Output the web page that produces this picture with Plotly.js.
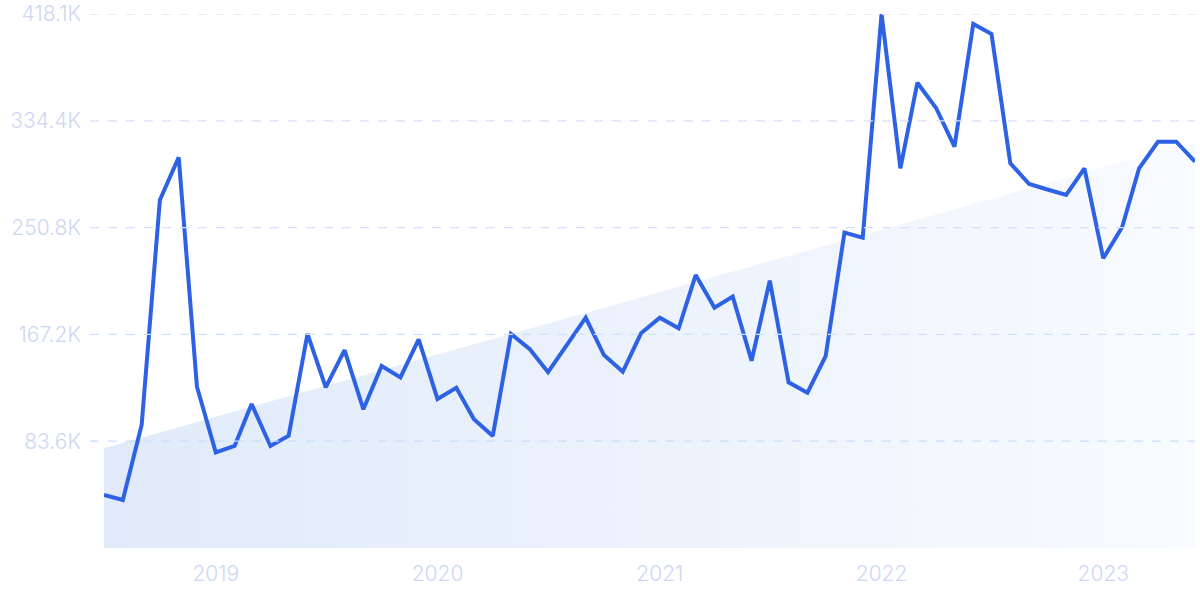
<!DOCTYPE html>
<html>
<head>
<meta charset="utf-8">
<script src="https://cdn.plot.ly/plotly-3.0.1.min.js"></script>
<style>
html,body{margin:0;padding:0;background:#fff;}
#chart{width:1200px;height:600px;}
</style>
</head>
<body>
<div id="chart"></div>
<script>
// Monthly dates, Jul 2018 – Jun 2023
const months = [
  '2018-07-01','2018-08-01','2018-09-01','2018-10-01','2018-11-01','2018-12-01',
  '2019-01-01','2019-02-01','2019-03-01','2019-04-01','2019-05-01','2019-06-01',
  '2019-07-01','2019-08-01','2019-09-01','2019-10-01','2019-11-01','2019-12-01',
  '2020-01-01','2020-02-01','2020-03-01','2020-04-01','2020-05-01','2020-06-01',
  '2020-07-01','2020-08-01','2020-09-01','2020-10-01','2020-11-01','2020-12-01',
  '2021-01-01','2021-02-01','2021-03-01','2021-04-01','2021-05-01','2021-06-01',
  '2021-07-01','2021-08-01','2021-09-01','2021-10-01','2021-11-01','2021-12-01',
  '2022-01-01','2022-02-01','2022-03-01','2022-04-01','2022-05-01','2022-06-01',
  '2022-07-01','2022-08-01','2022-09-01','2022-10-01','2022-11-01','2022-12-01',
  '2023-01-01','2023-02-01','2023-03-01','2023-04-01','2023-05-01','2023-06-01'
];
// Search volume values
const values = [
  41500, 37600, 96300, 272500, 305900, 126300,
  74900, 79900, 112700, 79900, 87900, 167600,
  125800, 155000, 108600, 142500, 133600, 163400,
  116700, 125500, 100800, 87700, 167600, 155600,
  137600, 159000, 180300, 151100, 138000, 168100,
  180300, 172000, 213700, 188100, 196800, 146600,
  209300, 129700, 121600, 150300, 247000, 243000,
  418100, 297300, 364300, 344300, 314200, 410300,
  402500, 301200, 285000, 280700, 276400, 297300,
  226800, 251100, 297300, 318100, 318100, 302500
];
// Trend line endpoints
const trendDates = ['2018-07-01', '2023-06-01'];
const trendValues = [78100, 318100];
// Axis ticks
const yTickVals = [83620, 167240, 250860, 334480, 418100];
const yTickText = ['83.6K', '167.2K', '250.8K', '334.4K', '418.1K'];
const xTickVals = ['2019-01-01', '2020-01-01', '2021-01-01', '2022-01-01', '2023-01-01'];
const xTickText = ['2019', '2020', '2021', '2022', '2023'];

const labelColor = '#cdd7f3';
const gridColors = ['#c8defa', '#cde1fa', '#d3e0f9', '#d9e0f8', '#dde2f8'];

const trendTrace = {
  x: trendDates, y: trendValues, type: 'scatter', mode: 'lines',
  line: {width: 0, color: 'rgba(0,0,0,0)'},
  fill: 'tozeroy',
  fillcolor: '#e8f0fb',
  fillgradient: {type: 'horizontal', colorscale: [[0, '#e0eafa'], [1, '#f8fbff']]},
  hoverinfo: 'skip'
};
const mainTrace = {
  x: months, y: values, type: 'scatter', mode: 'lines',
  line: {color: '#2e62e4', width: 4, shape: 'linear'},
  hoverinfo: 'skip'
};

const shapes = yTickVals.map((v, i) => ({
  type: 'line', xref: 'paper', yref: 'y', x0: -0.013, x1: 1, y0: v, y1: v,
  line: {color: gridColors[i], width: 1.3, dash: 'dash'}, layer: 'above'
}));

const layout = {
  width: 1200, height: 600,
  margin: {l: 104, r: 5, t: 14, b: 52},
  paper_bgcolor: '#ffffff', plot_bgcolor: '#ffffff',
  showlegend: false,
  font: {family: 'Inter, sans-serif', color: labelColor},
  xaxis: {
    type: 'date', range: [months[0], months[months.length - 1]],
    tickvals: xTickVals, ticktext: xTickText,
    showgrid: false, zeroline: false, showline: false, ticks: '',
    tickfont: {size: 21, color: labelColor, family: 'Inter, sans-serif', weight: 300},
    ticklabelstandoff: 11, fixedrange: true
  },
  yaxis: {
    range: [0, 418100],
    tickvals: yTickVals, ticktext: yTickText,
    showgrid: false, zeroline: false, showline: false, ticks: '',
    tickfont: {size: 21, color: labelColor, family: 'Inter, sans-serif', weight: 300},
    ticklabelstandoff: 22, fixedrange: true
  },
  shapes: shapes
};

Plotly.newPlot('chart', [trendTrace, mainTrace], layout, {displayModeBar: false, staticPlot: true});
</script>
</body>
</html>
